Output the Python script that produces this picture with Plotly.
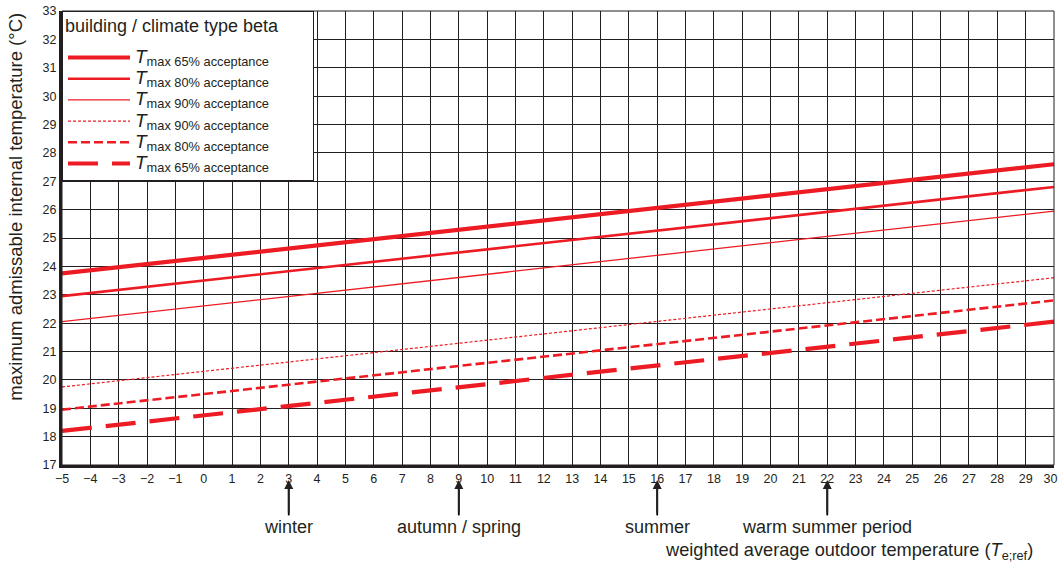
import plotly.graph_objects as go

# Data (line endpoints at Te = -5 and Te = 30)
x_range = [-5, 30]
tmax65_upper = [23.75, 27.6]
tmax80_upper = [22.95, 26.8]
tmax90_upper = [22.05, 25.95]
tmax90_lower = [19.75, 23.6]
tmax80_lower = [18.95, 22.8]
tmax65_lower = [18.2, 22.05]

series_names = ["65% acceptance", "80% acceptance", "90% acceptance",
                "90% acceptance", "80% acceptance", "65% acceptance"]
series_values = [tmax65_upper, tmax80_upper, tmax90_upper,
                 tmax90_lower, tmax80_lower, tmax65_lower]

season_labels = ["winter", "autumn / spring", "summer", "warm summer period"]
season_x = [3, 9, 16, 22]

x_ticks = list(range(-5, 31))
y_ticks = list(range(17, 34))

RED = "#ed1c24"
INK = "#231f20"
FONT = "Liberation Sans, Arial, sans-serif"

styles = [
    dict(width=4.2, dash="solid"),
    dict(width=2.6, dash="solid"),
    dict(width=1.3, dash="solid"),
    dict(width=1.2, dash="3px,2px"),
    dict(width=2.6, dash="9px,4px"),
    dict(width=4.2, dash="30px,14px"),
]

fig = go.Figure()
for name, vals, st in zip(series_names, series_values, styles):
    fig.add_trace(go.Scatter(
        x=x_range, y=vals, mode="lines",
        name=("<span style='font-size:19px'><i>T</i></span>"
              "<sub><span style='font-size:12.8px'>max " + name + "</span></sub>"),
        line=dict(color=RED, width=st["width"], dash=st["dash"]),
        hoverinfo="skip",
    ))

x_ticktext = [str(v).replace("-", "\u2212") for v in x_ticks]
x_ticktext[-1] = x_ticktext[-1] + "&nbsp;&nbsp;"

fig.update_layout(
    width=1059, height=569,
    margin=dict(l=62, r=5, t=11, b=104, autoexpand=False),
    paper_bgcolor="white", plot_bgcolor="white",
    font=dict(family=FONT, color=INK),
    showlegend=True,
    legend=dict(
        x=0, y=1, xanchor="left", yanchor="top",
        bgcolor="white", bordercolor=INK, borderwidth=1,
        font=dict(size=14, family=FONT, color=INK),
        title=dict(text="<sup><span style='font-size:18px'>building / climate type beta</span></sup>"
                        "&nbsp;&nbsp;&nbsp;&nbsp;&nbsp;",
                   font=dict(size=23, family=FONT, color=INK)),
        itemwidth=62, tracegroupgap=0,
    ),
    xaxis=dict(
        range=[-5, 30], tickmode="array", tickvals=x_ticks, ticktext=x_ticktext,
        tickfont=dict(size=12.5, family=FONT, color=INK),
        showgrid=True, gridcolor=INK, gridwidth=1,
        showline=True, linecolor=INK, linewidth=3,
        zeroline=False, ticks="", fixedrange=True,
        ticklabeloverflow="allow", automargin=False,
    ),
    yaxis=dict(
        range=[17, 33], tickmode="array", tickvals=y_ticks,
        tickfont=dict(size=12.5, family=FONT, color=INK),
        showgrid=True, gridcolor=INK, gridwidth=1,
        showline=True, linecolor=INK, linewidth=3,
        zeroline=False, ticks="", fixedrange=True,
        ticklabeloverflow="allow", automargin=False,
    ),
)

# thin frame on top/right
fig.add_shape(type="rect", xref="paper", yref="paper", x0=0, y0=0, x1=1, y1=1,
              line=dict(color=INK, width=1), layer="above")

# y-axis title (placed slightly above the plot centre as in the reference)
fig.add_annotation(
    x=-0.0464, y=0.569, xref="paper", yref="paper", xanchor="center", yanchor="middle",
    text="maximum admissable internal temperature (°C)", textangle=-90,
    showarrow=False, font=dict(size=18.5, family=FONT, color=INK),
)

for lab, xv in zip(season_labels, season_x):
    # arrow shaft
    fig.add_shape(type="line", xref="x", yref="paper",
                  x0=xv, x1=xv, y0=-0.045, y1=-0.111,
                  line=dict(color="#000000", width=1.8))
    # arrow head
    fig.add_annotation(
        x=xv, y=-0.033, xref="x", yref="paper",
        text="", showarrow=True, arrowhead=2, arrowsize=1.0, arrowwidth=1.8,
        arrowcolor=INK, ax=0, ay=34,
    )
    # label
    fig.add_annotation(
        x=xv, y=-0.1366, xref="x", yref="paper", xanchor="center", yanchor="middle",
        text=lab, showarrow=False,
        font=dict(size=18, family=FONT, color=INK),
    )

fig.add_annotation(
    x=0.981, y=-0.19, xref="paper", yref="paper", xanchor="right", yanchor="middle",
    text="weighted average outdoor temperature (<i>T</i><sub>e;ref</sub>)",
    showarrow=False, font=dict(size=18.2, family=FONT, color=INK),
)

fig.write_html("out.html", config={"displayModeBar": False},
               post_script="document.body.style.margin='0px';")
